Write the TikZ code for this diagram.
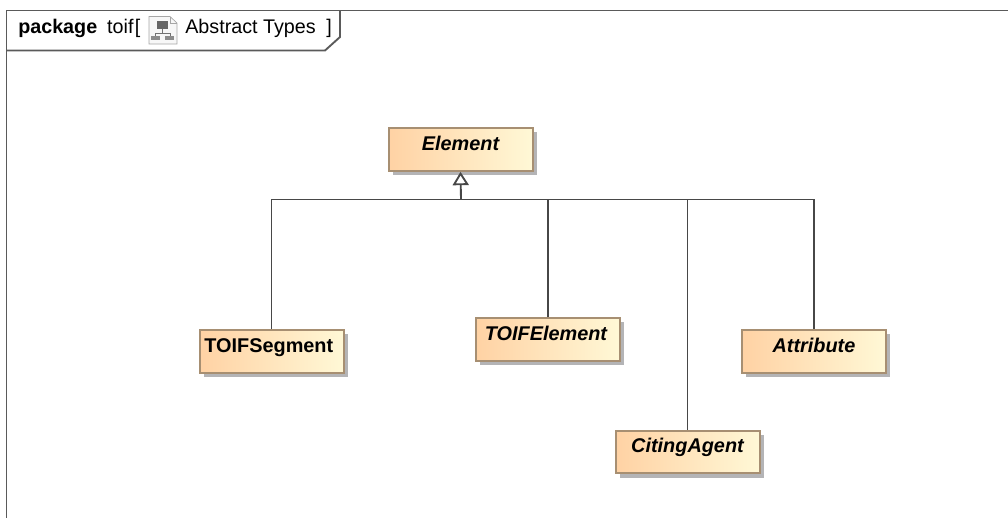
\documentclass[tikz,border=0pt]{standalone}
\usepackage{fontspec}
\setmainfont{Liberation Sans}
\usetikzlibrary{shadows,arrows.meta}
\definecolor{frameline}{HTML}{5A5A5A}
\definecolor{boxline}{HTML}{A78F72}
\definecolor{shade}{HTML}{B4B4B6}
\definecolor{gradL}{HTML}{FFD2A4}
\definecolor{gradR}{HTML}{FFF8D6}
\tikzset{
  x=0.75pt,y=-0.75pt,
  umlclass/.style={rectangle,draw=boxline,line width=1.5pt,left color=gradL,right color=gradR,
    minimum width=108pt,inner sep=0pt,text height=16.5pt,text depth=15.5pt,
    font=\fontsize{14.9pt}{16pt}\selectfont\bfseries,
    general shadow={shadow xshift=3.2pt,shadow yshift=-3.2pt,fill=shade,opacity=1}},
  abstractclass/.style={umlclass,font=\fontsize{14.9pt}{16pt}\selectfont\bfseries\itshape},
  frameline/.style={draw=frameline,line width=1.4pt},
  conn/.style={draw=black!72,line width=1.4pt},
  titletext/.style={inner sep=0pt,anchor=base west,font=\fontsize{14.8pt}{16pt}\selectfont}
}
\begin{document}
\begin{tikzpicture}
\useasboundingbox (0,0) rectangle (1008,518);
% frame
\draw[frameline] (1008,10.5) -- (6.5,10.5) -- (6.5,518);
\draw[frameline] (6.5,50.5) -- (325,50.5) -- (340,37) -- (340,10.5);
\node[titletext] (pk) at (18,33) {\textbf{package}\hspace{7.5pt}toif\hspace{1pt}[};
\node[titletext] (ab) at (185,33) {Abstract Types\hspace{8pt}]};
% package icon
\draw[draw=black!35,fill=black!3,line width=.5pt] (149,16.5) -- (170,16.5) -- (177,23) -- (177,44) -- (149,44) -- cycle;
\draw[draw=black!35,line width=.5pt] (170,16.5) -- (170,23) -- (177,23);
\fill[black!60] (157,21) rectangle (168,29);
\fill[black!45] (151,36) rectangle (160,40);
\fill[black!45] (165,36) rectangle (174,40);
\draw[black!55,line width=.6pt] (162.5,29) -- (162.5,33) (155,36) -- (155,33) -- (170,33) -- (170,36);
% classes
\node[abstractclass] (element) at (460.5,149.5) {Element};
\node[umlclass] (segment) at (271.5,351.5) {\hspace{-4pt}TOIFSegment};
\node[abstractclass] (toifel) at (548,339.5) {\hspace{-3pt}TOIFElement};
\node[abstractclass] (attr) at (814,351.5) {Attribute};
\node[abstractclass] (citing) at (687.5,452) {CitingAgent};
% connectors
\coordinate (bus) at (461,199.5);
\draw[conn,-{Triangle[open,length=10pt,width=12pt,fill=white]}] (bus) -- (element.south);
\draw[conn] (segment.north) |- (bus);
\draw[conn] (toifel.north) |- (bus);
\draw[conn] (citing.north) |- (bus);
\draw[conn] (attr.north) |- (bus);
\end{tikzpicture}
\end{document}
